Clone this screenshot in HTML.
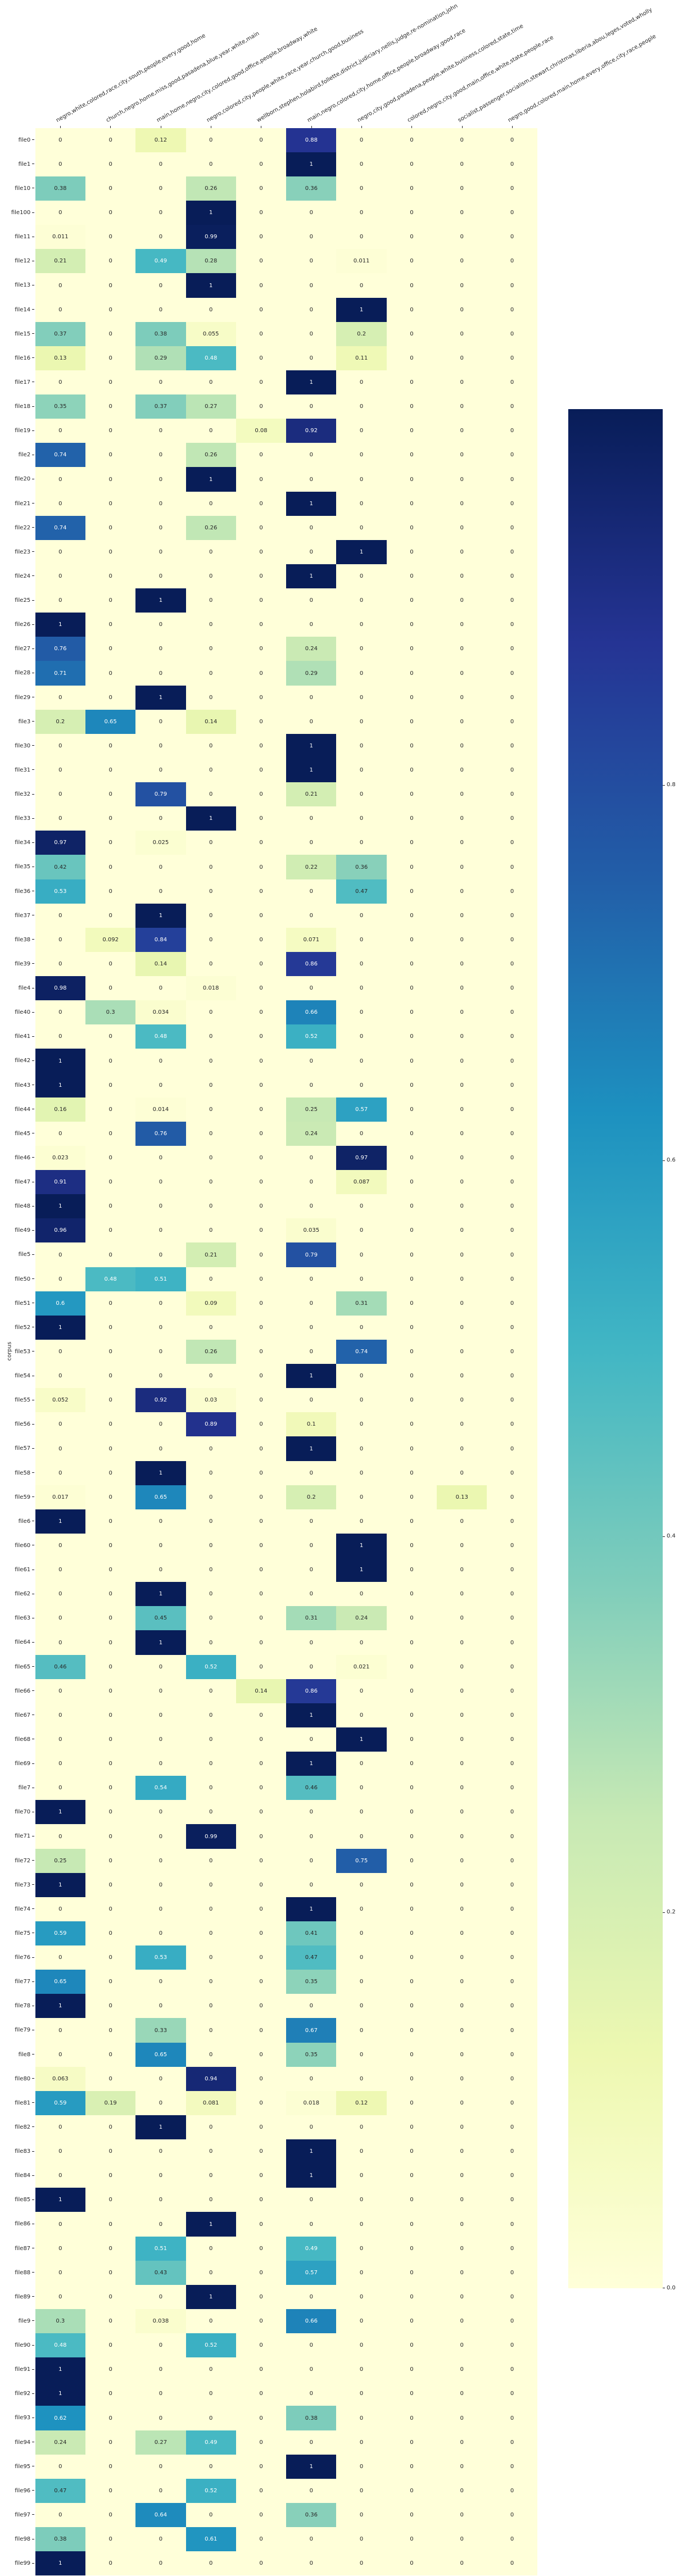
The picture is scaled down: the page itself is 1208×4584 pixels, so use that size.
<!DOCTYPE html>
<html><head><meta charset="utf-8">
<style>
html,body{margin:0;padding:0;background:#fff;}
body{width:1208px;height:4584px;position:relative;overflow:hidden;font-family:"DejaVu Sans","Liberation Sans",sans-serif;font-size:10px;color:#262626;}
#hm{position:absolute;left:62.7px;top:227.7px;width:893px;background:#ffffd9;}
#hm div{position:relative;height:43.13px;display:grid;grid-template-columns:repeat(10,89.3px);}
#hm i{font-style:normal;display:flex;align-items:center;justify-content:center;background:#ffffd9;}
#hm s{text-decoration:none;position:absolute;right:100%;top:0;height:43.13px;line-height:43.13px;padding-right:2px;white-space:nowrap;}
#hm s::after{content:"";display:inline-block;width:3.5px;height:1px;background:#262626;vertical-align:middle;margin-left:3px;}
.cl{position:absolute;top:209px;white-space:nowrap;transform-origin:0 100%;transform:rotate(-30deg);line-height:12px;}
.tk{position:absolute;top:224px;width:1px;height:3.5px;background:#262626;}
#cb{position:absolute;left:1011px;top:728px;width:168px;height:3344px;
background:linear-gradient(to top,#ffffd9 0%,#edf8b1 12.5%,#c7e9b4 25%,#7fcdbb 37.5%,#41b6c4 50%,#1d91c0 62.5%,#225ea8 75%,#253494 87.5%,#081d58 100%);}
.ct{position:absolute;left:1179px;width:3.5px;height:1px;background:#262626;}
.cv{position:absolute;left:1186px;line-height:12px;}
#yl{position:absolute;left:0px;top:2399px;transform:rotate(-90deg);transform-origin:50% 50%;font-size:10px;}
</style></head><body>

<div class="tk" style="left:107px"></div><div class="tk" style="left:196px"></div><div class="tk" style="left:286px"></div><div class="tk" style="left:375px"></div><div class="tk" style="left:464px"></div><div class="tk" style="left:554px"></div><div class="tk" style="left:643px"></div><div class="tk" style="left:732px"></div><div class="tk" style="left:822px"></div><div class="tk" style="left:911px"></div>

<span class="cl" style="left:104px">negro,white,colored,race,city,south,people,every,good,home</span>
<span class="cl" style="left:193px">church,negro,home,miss,good,pasadena,blue,year,white,main</span>
<span class="cl" style="left:283px">main,home,negro,city,colored,good,office,people,broadway,white</span>
<span class="cl" style="left:372px">negro,colored,city,people,white,race,year,church,good,business</span>
<span class="cl" style="left:461px">wellborn,stephen,holabird,follette,district,judiciary,nellis,judge,re-nomination,john</span>
<span class="cl" style="left:551px">main,negro,colored,city,home,office,people,broadway,good,race</span>
<span class="cl" style="left:640px">negro,city,good,pasadena,people,white,business,colored,state,time</span>
<span class="cl" style="left:729px">colored,negro,city,good,main,office,white,state,people,race</span>
<span class="cl" style="left:819px">socialist,passenger,socialism,stewart,christmas,liberia,abou,leges,voted,wholly</span>
<span class="cl" style="left:908px">negro,good,colored,main,home,every,office,city,race,people</span>

<div id="yl">corpus</div>

<div id="hm">
<div><s>file0</s><i>0</i><i>0</i><i>0.12</i><i>0</i><i>0</i><i>0.88</i><i>0</i><i>0</i><i>0</i><i>0</i></div>
<div><s>file1</s><i>0</i><i>0</i><i>0</i><i>0</i><i>0</i><i>1</i><i>0</i><i>0</i><i>0</i><i>0</i></div>
<div><s>file10</s><i>0.38</i><i>0</i><i>0</i><i>0.26</i><i>0</i><i>0.36</i><i>0</i><i>0</i><i>0</i><i>0</i></div>
<div><s>file100</s><i>0</i><i>0</i><i>0</i><i>1</i><i>0</i><i>0</i><i>0</i><i>0</i><i>0</i><i>0</i></div>
<div><s>file11</s><i>0.011</i><i>0</i><i>0</i><i>0.99</i><i>0</i><i>0</i><i>0</i><i>0</i><i>0</i><i>0</i></div>
<div><s>file12</s><i>0.21</i><i>0</i><i>0.49</i><i>0.28</i><i>0</i><i>0</i><i>0.011</i><i>0</i><i>0</i><i>0</i></div>
<div><s>file13</s><i>0</i><i>0</i><i>0</i><i>1</i><i>0</i><i>0</i><i>0</i><i>0</i><i>0</i><i>0</i></div>
<div><s>file14</s><i>0</i><i>0</i><i>0</i><i>0</i><i>0</i><i>0</i><i>1</i><i>0</i><i>0</i><i>0</i></div>
<div><s>file15</s><i>0.37</i><i>0</i><i>0.38</i><i>0.055</i><i>0</i><i>0</i><i>0.2</i><i>0</i><i>0</i><i>0</i></div>
<div><s>file16</s><i>0.13</i><i>0</i><i>0.29</i><i>0.48</i><i>0</i><i>0</i><i>0.11</i><i>0</i><i>0</i><i>0</i></div>
<div><s>file17</s><i>0</i><i>0</i><i>0</i><i>0</i><i>0</i><i>1</i><i>0</i><i>0</i><i>0</i><i>0</i></div>
<div><s>file18</s><i>0.35</i><i>0</i><i>0.37</i><i>0.27</i><i>0</i><i>0</i><i>0</i><i>0</i><i>0</i><i>0</i></div>
<div><s>file19</s><i>0</i><i>0</i><i>0</i><i>0</i><i>0.08</i><i>0.92</i><i>0</i><i>0</i><i>0</i><i>0</i></div>
<div><s>file2</s><i>0.74</i><i>0</i><i>0</i><i>0.26</i><i>0</i><i>0</i><i>0</i><i>0</i><i>0</i><i>0</i></div>
<div><s>file20</s><i>0</i><i>0</i><i>0</i><i>1</i><i>0</i><i>0</i><i>0</i><i>0</i><i>0</i><i>0</i></div>
<div><s>file21</s><i>0</i><i>0</i><i>0</i><i>0</i><i>0</i><i>1</i><i>0</i><i>0</i><i>0</i><i>0</i></div>
<div><s>file22</s><i>0.74</i><i>0</i><i>0</i><i>0.26</i><i>0</i><i>0</i><i>0</i><i>0</i><i>0</i><i>0</i></div>
<div><s>file23</s><i>0</i><i>0</i><i>0</i><i>0</i><i>0</i><i>0</i><i>1</i><i>0</i><i>0</i><i>0</i></div>
<div><s>file24</s><i>0</i><i>0</i><i>0</i><i>0</i><i>0</i><i>1</i><i>0</i><i>0</i><i>0</i><i>0</i></div>
<div><s>file25</s><i>0</i><i>0</i><i>1</i><i>0</i><i>0</i><i>0</i><i>0</i><i>0</i><i>0</i><i>0</i></div>
<div><s>file26</s><i>1</i><i>0</i><i>0</i><i>0</i><i>0</i><i>0</i><i>0</i><i>0</i><i>0</i><i>0</i></div>
<div><s>file27</s><i>0.76</i><i>0</i><i>0</i><i>0</i><i>0</i><i>0.24</i><i>0</i><i>0</i><i>0</i><i>0</i></div>
<div><s>file28</s><i>0.71</i><i>0</i><i>0</i><i>0</i><i>0</i><i>0.29</i><i>0</i><i>0</i><i>0</i><i>0</i></div>
<div><s>file29</s><i>0</i><i>0</i><i>1</i><i>0</i><i>0</i><i>0</i><i>0</i><i>0</i><i>0</i><i>0</i></div>
<div><s>file3</s><i>0.2</i><i>0.65</i><i>0</i><i>0.14</i><i>0</i><i>0</i><i>0</i><i>0</i><i>0</i><i>0</i></div>
<div><s>file30</s><i>0</i><i>0</i><i>0</i><i>0</i><i>0</i><i>1</i><i>0</i><i>0</i><i>0</i><i>0</i></div>
<div><s>file31</s><i>0</i><i>0</i><i>0</i><i>0</i><i>0</i><i>1</i><i>0</i><i>0</i><i>0</i><i>0</i></div>
<div><s>file32</s><i>0</i><i>0</i><i>0.79</i><i>0</i><i>0</i><i>0.21</i><i>0</i><i>0</i><i>0</i><i>0</i></div>
<div><s>file33</s><i>0</i><i>0</i><i>0</i><i>1</i><i>0</i><i>0</i><i>0</i><i>0</i><i>0</i><i>0</i></div>
<div><s>file34</s><i>0.97</i><i>0</i><i>0.025</i><i>0</i><i>0</i><i>0</i><i>0</i><i>0</i><i>0</i><i>0</i></div>
<div><s>file35</s><i>0.42</i><i>0</i><i>0</i><i>0</i><i>0</i><i>0.22</i><i>0.36</i><i>0</i><i>0</i><i>0</i></div>
<div><s>file36</s><i>0.53</i><i>0</i><i>0</i><i>0</i><i>0</i><i>0</i><i>0.47</i><i>0</i><i>0</i><i>0</i></div>
<div><s>file37</s><i>0</i><i>0</i><i>1</i><i>0</i><i>0</i><i>0</i><i>0</i><i>0</i><i>0</i><i>0</i></div>
<div><s>file38</s><i>0</i><i>0.092</i><i>0.84</i><i>0</i><i>0</i><i>0.071</i><i>0</i><i>0</i><i>0</i><i>0</i></div>
<div><s>file39</s><i>0</i><i>0</i><i>0.14</i><i>0</i><i>0</i><i>0.86</i><i>0</i><i>0</i><i>0</i><i>0</i></div>
<div><s>file4</s><i>0.98</i><i>0</i><i>0</i><i>0.018</i><i>0</i><i>0</i><i>0</i><i>0</i><i>0</i><i>0</i></div>
<div><s>file40</s><i>0</i><i>0.3</i><i>0.034</i><i>0</i><i>0</i><i>0.66</i><i>0</i><i>0</i><i>0</i><i>0</i></div>
<div><s>file41</s><i>0</i><i>0</i><i>0.48</i><i>0</i><i>0</i><i>0.52</i><i>0</i><i>0</i><i>0</i><i>0</i></div>
<div><s>file42</s><i>1</i><i>0</i><i>0</i><i>0</i><i>0</i><i>0</i><i>0</i><i>0</i><i>0</i><i>0</i></div>
<div><s>file43</s><i>1</i><i>0</i><i>0</i><i>0</i><i>0</i><i>0</i><i>0</i><i>0</i><i>0</i><i>0</i></div>
<div><s>file44</s><i>0.16</i><i>0</i><i>0.014</i><i>0</i><i>0</i><i>0.25</i><i>0.57</i><i>0</i><i>0</i><i>0</i></div>
<div><s>file45</s><i>0</i><i>0</i><i>0.76</i><i>0</i><i>0</i><i>0.24</i><i>0</i><i>0</i><i>0</i><i>0</i></div>
<div><s>file46</s><i>0.023</i><i>0</i><i>0</i><i>0</i><i>0</i><i>0</i><i>0.97</i><i>0</i><i>0</i><i>0</i></div>
<div><s>file47</s><i>0.91</i><i>0</i><i>0</i><i>0</i><i>0</i><i>0</i><i>0.087</i><i>0</i><i>0</i><i>0</i></div>
<div><s>file48</s><i>1</i><i>0</i><i>0</i><i>0</i><i>0</i><i>0</i><i>0</i><i>0</i><i>0</i><i>0</i></div>
<div><s>file49</s><i>0.96</i><i>0</i><i>0</i><i>0</i><i>0</i><i>0.035</i><i>0</i><i>0</i><i>0</i><i>0</i></div>
<div><s>file5</s><i>0</i><i>0</i><i>0</i><i>0.21</i><i>0</i><i>0.79</i><i>0</i><i>0</i><i>0</i><i>0</i></div>
<div><s>file50</s><i>0</i><i>0.48</i><i>0.51</i><i>0</i><i>0</i><i>0</i><i>0</i><i>0</i><i>0</i><i>0</i></div>
<div><s>file51</s><i>0.6</i><i>0</i><i>0</i><i>0.09</i><i>0</i><i>0</i><i>0.31</i><i>0</i><i>0</i><i>0</i></div>
<div><s>file52</s><i>1</i><i>0</i><i>0</i><i>0</i><i>0</i><i>0</i><i>0</i><i>0</i><i>0</i><i>0</i></div>
<div><s>file53</s><i>0</i><i>0</i><i>0</i><i>0.26</i><i>0</i><i>0</i><i>0.74</i><i>0</i><i>0</i><i>0</i></div>
<div><s>file54</s><i>0</i><i>0</i><i>0</i><i>0</i><i>0</i><i>1</i><i>0</i><i>0</i><i>0</i><i>0</i></div>
<div><s>file55</s><i>0.052</i><i>0</i><i>0.92</i><i>0.03</i><i>0</i><i>0</i><i>0</i><i>0</i><i>0</i><i>0</i></div>
<div><s>file56</s><i>0</i><i>0</i><i>0</i><i>0.89</i><i>0</i><i>0.1</i><i>0</i><i>0</i><i>0</i><i>0</i></div>
<div><s>file57</s><i>0</i><i>0</i><i>0</i><i>0</i><i>0</i><i>1</i><i>0</i><i>0</i><i>0</i><i>0</i></div>
<div><s>file58</s><i>0</i><i>0</i><i>1</i><i>0</i><i>0</i><i>0</i><i>0</i><i>0</i><i>0</i><i>0</i></div>
<div><s>file59</s><i>0.017</i><i>0</i><i>0.65</i><i>0</i><i>0</i><i>0.2</i><i>0</i><i>0</i><i>0.13</i><i>0</i></div>
<div><s>file6</s><i>1</i><i>0</i><i>0</i><i>0</i><i>0</i><i>0</i><i>0</i><i>0</i><i>0</i><i>0</i></div>
<div><s>file60</s><i>0</i><i>0</i><i>0</i><i>0</i><i>0</i><i>0</i><i>1</i><i>0</i><i>0</i><i>0</i></div>
<div><s>file61</s><i>0</i><i>0</i><i>0</i><i>0</i><i>0</i><i>0</i><i>1</i><i>0</i><i>0</i><i>0</i></div>
<div><s>file62</s><i>0</i><i>0</i><i>1</i><i>0</i><i>0</i><i>0</i><i>0</i><i>0</i><i>0</i><i>0</i></div>
<div><s>file63</s><i>0</i><i>0</i><i>0.45</i><i>0</i><i>0</i><i>0.31</i><i>0.24</i><i>0</i><i>0</i><i>0</i></div>
<div><s>file64</s><i>0</i><i>0</i><i>1</i><i>0</i><i>0</i><i>0</i><i>0</i><i>0</i><i>0</i><i>0</i></div>
<div><s>file65</s><i>0.46</i><i>0</i><i>0</i><i>0.52</i><i>0</i><i>0</i><i>0.021</i><i>0</i><i>0</i><i>0</i></div>
<div><s>file66</s><i>0</i><i>0</i><i>0</i><i>0</i><i>0.14</i><i>0.86</i><i>0</i><i>0</i><i>0</i><i>0</i></div>
<div><s>file67</s><i>0</i><i>0</i><i>0</i><i>0</i><i>0</i><i>1</i><i>0</i><i>0</i><i>0</i><i>0</i></div>
<div><s>file68</s><i>0</i><i>0</i><i>0</i><i>0</i><i>0</i><i>0</i><i>1</i><i>0</i><i>0</i><i>0</i></div>
<div><s>file69</s><i>0</i><i>0</i><i>0</i><i>0</i><i>0</i><i>1</i><i>0</i><i>0</i><i>0</i><i>0</i></div>
<div><s>file7</s><i>0</i><i>0</i><i>0.54</i><i>0</i><i>0</i><i>0.46</i><i>0</i><i>0</i><i>0</i><i>0</i></div>
<div><s>file70</s><i>1</i><i>0</i><i>0</i><i>0</i><i>0</i><i>0</i><i>0</i><i>0</i><i>0</i><i>0</i></div>
<div><s>file71</s><i>0</i><i>0</i><i>0</i><i>0.99</i><i>0</i><i>0</i><i>0</i><i>0</i><i>0</i><i>0</i></div>
<div><s>file72</s><i>0.25</i><i>0</i><i>0</i><i>0</i><i>0</i><i>0</i><i>0.75</i><i>0</i><i>0</i><i>0</i></div>
<div><s>file73</s><i>1</i><i>0</i><i>0</i><i>0</i><i>0</i><i>0</i><i>0</i><i>0</i><i>0</i><i>0</i></div>
<div><s>file74</s><i>0</i><i>0</i><i>0</i><i>0</i><i>0</i><i>1</i><i>0</i><i>0</i><i>0</i><i>0</i></div>
<div><s>file75</s><i>0.59</i><i>0</i><i>0</i><i>0</i><i>0</i><i>0.41</i><i>0</i><i>0</i><i>0</i><i>0</i></div>
<div><s>file76</s><i>0</i><i>0</i><i>0.53</i><i>0</i><i>0</i><i>0.47</i><i>0</i><i>0</i><i>0</i><i>0</i></div>
<div><s>file77</s><i>0.65</i><i>0</i><i>0</i><i>0</i><i>0</i><i>0.35</i><i>0</i><i>0</i><i>0</i><i>0</i></div>
<div><s>file78</s><i>1</i><i>0</i><i>0</i><i>0</i><i>0</i><i>0</i><i>0</i><i>0</i><i>0</i><i>0</i></div>
<div><s>file79</s><i>0</i><i>0</i><i>0.33</i><i>0</i><i>0</i><i>0.67</i><i>0</i><i>0</i><i>0</i><i>0</i></div>
<div><s>file8</s><i>0</i><i>0</i><i>0.65</i><i>0</i><i>0</i><i>0.35</i><i>0</i><i>0</i><i>0</i><i>0</i></div>
<div><s>file80</s><i>0.063</i><i>0</i><i>0</i><i>0.94</i><i>0</i><i>0</i><i>0</i><i>0</i><i>0</i><i>0</i></div>
<div><s>file81</s><i>0.59</i><i>0.19</i><i>0</i><i>0.081</i><i>0</i><i>0.018</i><i>0.12</i><i>0</i><i>0</i><i>0</i></div>
<div><s>file82</s><i>0</i><i>0</i><i>1</i><i>0</i><i>0</i><i>0</i><i>0</i><i>0</i><i>0</i><i>0</i></div>
<div><s>file83</s><i>0</i><i>0</i><i>0</i><i>0</i><i>0</i><i>1</i><i>0</i><i>0</i><i>0</i><i>0</i></div>
<div><s>file84</s><i>0</i><i>0</i><i>0</i><i>0</i><i>0</i><i>1</i><i>0</i><i>0</i><i>0</i><i>0</i></div>
<div><s>file85</s><i>1</i><i>0</i><i>0</i><i>0</i><i>0</i><i>0</i><i>0</i><i>0</i><i>0</i><i>0</i></div>
<div><s>file86</s><i>0</i><i>0</i><i>0</i><i>1</i><i>0</i><i>0</i><i>0</i><i>0</i><i>0</i><i>0</i></div>
<div><s>file87</s><i>0</i><i>0</i><i>0.51</i><i>0</i><i>0</i><i>0.49</i><i>0</i><i>0</i><i>0</i><i>0</i></div>
<div><s>file88</s><i>0</i><i>0</i><i>0.43</i><i>0</i><i>0</i><i>0.57</i><i>0</i><i>0</i><i>0</i><i>0</i></div>
<div><s>file89</s><i>0</i><i>0</i><i>0</i><i>1</i><i>0</i><i>0</i><i>0</i><i>0</i><i>0</i><i>0</i></div>
<div><s>file9</s><i>0.3</i><i>0</i><i>0.038</i><i>0</i><i>0</i><i>0.66</i><i>0</i><i>0</i><i>0</i><i>0</i></div>
<div><s>file90</s><i>0.48</i><i>0</i><i>0</i><i>0.52</i><i>0</i><i>0</i><i>0</i><i>0</i><i>0</i><i>0</i></div>
<div><s>file91</s><i>1</i><i>0</i><i>0</i><i>0</i><i>0</i><i>0</i><i>0</i><i>0</i><i>0</i><i>0</i></div>
<div><s>file92</s><i>1</i><i>0</i><i>0</i><i>0</i><i>0</i><i>0</i><i>0</i><i>0</i><i>0</i><i>0</i></div>
<div><s>file93</s><i>0.62</i><i>0</i><i>0</i><i>0</i><i>0</i><i>0.38</i><i>0</i><i>0</i><i>0</i><i>0</i></div>
<div><s>file94</s><i>0.24</i><i>0</i><i>0.27</i><i>0.49</i><i>0</i><i>0</i><i>0</i><i>0</i><i>0</i><i>0</i></div>
<div><s>file95</s><i>0</i><i>0</i><i>0</i><i>0</i><i>0</i><i>1</i><i>0</i><i>0</i><i>0</i><i>0</i></div>
<div><s>file96</s><i>0.47</i><i>0</i><i>0</i><i>0.52</i><i>0</i><i>0</i><i>0</i><i>0</i><i>0</i><i>0</i></div>
<div><s>file97</s><i>0</i><i>0</i><i>0.64</i><i>0</i><i>0</i><i>0.36</i><i>0</i><i>0</i><i>0</i><i>0</i></div>
<div><s>file98</s><i>0.38</i><i>0</i><i>0</i><i>0.61</i><i>0</i><i>0</i><i>0</i><i>0</i><i>0</i><i>0</i></div>
<div><s>file99</s><i>1</i><i>0</i><i>0</i><i>0</i><i>0</i><i>0</i><i>0</i><i>0</i><i>0</i><i>0</i></div>
</div>

<div id="cb"></div>
<div class="ct" style="top:4071px"></div><span class="cv" style="top:4066px">0.0</span>
<div class="ct" style="top:3403px"></div><span class="cv" style="top:3397px">0.2</span>
<div class="ct" style="top:2734px"></div><span class="cv" style="top:2728px">0.4</span>
<div class="ct" style="top:2065px"></div><span class="cv" style="top:2059px">0.6</span>
<div class="ct" style="top:1397px"></div><span class="cv" style="top:1391px">0.8</span>

<script>
(function(){
var st=[[255,255,217],[237,248,177],[199,233,180],[127,205,187],[65,182,196],[29,145,192],[34,94,168],[37,52,148],[8,29,88]];
function col(v){v=Math.max(0,Math.min(1,v));var p=v*8,i=Math.min(7,Math.floor(p)),f=p-i;
var a=st[i],b=st[i+1];return [0,1,2].map(function(k){return Math.round(a[k]+(b[k]-a[k])*f);});}
function lum(c){var r=c.map(function(x){x/=255;return x<=0.03928?x/12.92:Math.pow((x+0.055)/1.055,2.4);});
return 0.2126*r[0]+0.7152*r[1]+0.0722*r[2];}
var cells=document.querySelectorAll('#hm i');
for(var j=0;j<cells.length;j++){var v=parseFloat(cells[j].textContent);var c=col(v);
cells[j].style.background='rgb('+c.join(',')+')';
cells[j].style.color=lum(c)>0.408?'#262626':'#ffffff';}
})();
</script>
</body></html>
